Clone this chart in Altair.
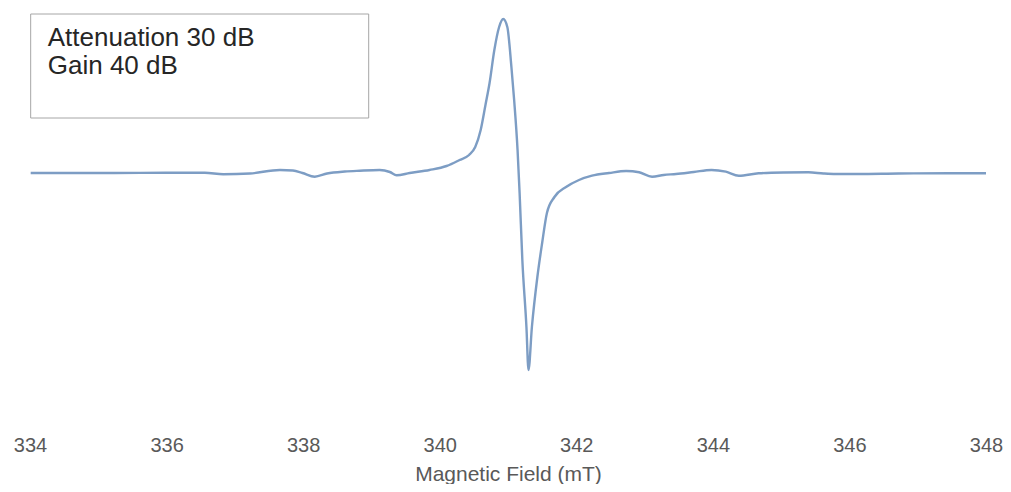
import altair as alt
import pandas as pd

# Magnetic field (mT) and EPR signal (arbitrary units)
field = [334.01, 335.03, 336.20, 336.56, 336.83, 337.22, 337.66, 337.85, 337.99, 338.17,
         338.35, 338.61, 338.83, 339.12, 339.27, 339.37, 339.56, 339.85, 340.10, 340.29,
         340.43, 340.52, 340.60, 340.67, 340.73, 340.80, 340.87, 340.93, 340.99, 341.05,
         341.09, 341.14, 341.17, 341.21, 341.27, 341.30, 341.35, 341.43, 341.50, 341.57,
         341.68, 341.85, 342.04, 342.23, 342.48, 342.73, 342.92, 343.11, 343.28, 343.46,
         343.72, 343.98, 344.19, 344.38, 344.67, 345.04, 345.40, 345.62, 345.80, 346.13,
         346.72, 347.45, 348.00]
signal = [0, 0, 0.3, 0.3, -1.3, -0.5, 3, 2.5, 0, -3.7,
          -0.5, 1.5, 2.3, 3, 1, -2.3, 0, 3, 7, 13,
          18, 26, 43, 68, 90, 123, 146, 154, 146, 106,
          73, 23, -20, -87, -154, -197, -154, -104, -70, -40,
          -24, -14, -7, -2.7, 0, 2, 0.7, -3.7, -2, -1,
          1, 3, 1.3, -2.7, -0.3, 0.5, 0.7, -0.5, -1, -1,
          -0.5, -0.3, -0.3]

x_ticks = [334, 336, 338, 340, 342, 344, 346, 348]
note_lines = ["Attenuation 30 dB", "Gain 40 dB"]
note_x = [334.26, 334.26]
note_y = [127.5, 99]
box_x = [334.01]
box_x2 = [338.96]
box_y = [159]
box_y2 = [55]

df = pd.DataFrame({"field": field, "signal": signal})

xscale = alt.Scale(domain=[334, 348], nice=False, zero=False)
yscale = alt.Scale(domain=[-247, 163], nice=False, zero=False)
xaxis = alt.Axis(values=x_ticks, title="Magnetic Field (mT)", grid=False,
                 domain=False, ticks=False, labelFlush=False, labelFontSize=20,
                 labelColor="#595959", labelFont="Liberation Sans",
                 labelPadding=15, titleFont="Liberation Sans",
                 titleFontSize=21, titleFontWeight="normal",
                 titleColor="#595959", titlePadding=8)

line = alt.Chart(df).mark_line(
    color="#7d9dc4", strokeWidth=2.4, interpolate="monotone"
).encode(
    x=alt.X("field:Q", scale=xscale, axis=xaxis),
    y=alt.Y("signal:Q", scale=yscale, axis=None),
)

box_df = pd.DataFrame({"field": box_x, "bx2": box_x2, "signal": box_y, "by2": box_y2})
box = alt.Chart(box_df).mark_rect(
    fill="white", stroke="#a6a6a6", strokeWidth=1
).encode(
    x=alt.X("field:Q", scale=xscale, axis=xaxis), x2="bx2:Q",
    y=alt.Y("signal:Q", scale=yscale, axis=None), y2="by2:Q",
)

txt_df = pd.DataFrame({"field": note_x, "signal": note_y, "t": note_lines})
txt = alt.Chart(txt_df).mark_text(
    align="left", baseline="alphabetic", fontSize=26, font="Liberation Sans",
    color="#262626"
).encode(
    x=alt.X("field:Q", scale=xscale, axis=xaxis),
    y=alt.Y("signal:Q", scale=yscale, axis=None),
    text="t:N",
)

chart = alt.layer(line, box, txt).properties(
    width=956, height=410,
    padding={"left": 5, "top": 2, "right": 0, "bottom": 0},
    background="white",
).configure_view(stroke=None)

chart.save("out.html", embed_options={"renderer": "svg", "actions": False})
